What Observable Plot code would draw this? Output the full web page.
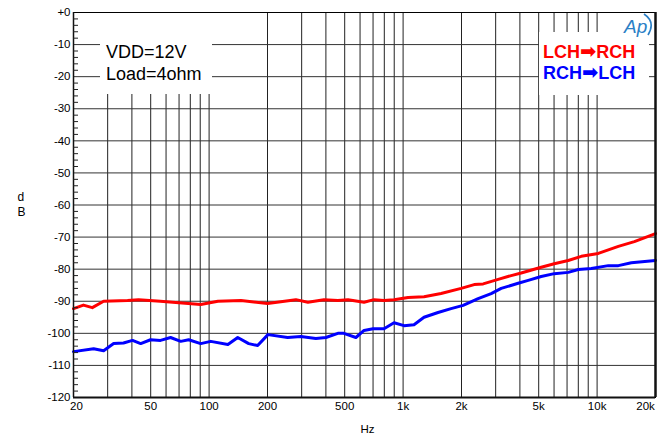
<!DOCTYPE html>
<html>
<head>
<meta charset="utf-8">
<script src="https://cdn.jsdelivr.net/npm/d3@7"></script>
<script src="https://cdn.jsdelivr.net/npm/@observablehq/plot@0.6"></script>
<style>
  html, body { margin: 0; padding: 0; background: #fff; }
  #wrap { position: relative; width: 665px; height: 442px; overflow: hidden; font-family: "Liberation Sans", Arial, "DejaVu Sans", sans-serif; }
  #wrap svg.plot { position: absolute; left: 0; top: 0; }
  .border { position: absolute; left: 5px; top: 0; width: 2px; height: 442px; background: #c4c4c4; }
  .box1 { position: absolute; left: 100px; top: 13px; width: 112px; height: 81px; background: #fff; box-sizing: border-box; padding-top: 27.8px; padding-left: 6px; font-size: 18px; line-height: 22px; color: #000; white-space: nowrap; }
  .box2 { position: absolute; left: 539px; top: 32px; width: 110px; height: 63px; background: #fff; box-sizing: border-box; padding-top: 9.8px; padding-left: 4px; font-size: 18px; line-height: 21px; font-weight: bold; white-space: nowrap; }
  .arrow { font-family: "DejaVu Sans", sans-serif; font-weight: bold; font-size: 19.5px; line-height: 0; vertical-align: 0px; }
  .logo { position: absolute; left: 618px; top: 11px; }
</style>
</head>
<body>
<div id="wrap">
  <div class="border"></div>
</div>
<script>
// ---- data ----
const redFreq = [20, 22.5, 25, 28.6, 38, 43.3, 56, 90.5, 111, 146, 200, 280, 323, 391, 461, 520, 629, 708, 797, 898, 1060, 1282, 1569, 1991, 2324, 2586, 3091, 3607, 4062, 5152, 6013, 7100, 8290, 10145, 12870, 15563, 20000];
const redDb   = [-92.3, -91.2, -92, -90, -89.8, -89.5, -90, -91, -90, -89.8, -90.7, -89.5, -90.3, -89.5, -89.8, -89.5, -90.3, -89.5, -89.8, -89.5, -88.8, -88.6, -87.6, -86, -84.8, -84.6, -83.2, -82, -81.2, -79.4, -78.3, -77.3, -76, -75.1, -72.9, -71.4, -68.9];

const blueFreq = [20, 25.4, 28.6, 32.2, 36.2, 40.3, 44.4, 49.9, 56.2, 63.3, 71.4, 78.5, 90.5, 102, 125, 140.5, 160, 178, 201, 254, 297, 355, 400, 461, 495, 571, 629, 700, 797, 898, 1011, 1138, 1282, 1514, 1767, 2039, 2436, 2844, 3203, 3920, 4415, 5152, 6013, 7100, 7998, 9335, 11423, 12870, 15017, 20000];
const blueDb   = [-105.7, -104.8, -105.4, -103.2, -103, -102.2, -103.2, -102, -102.2, -101.3, -102.5, -102, -103.2, -102.5, -103.5, -101.3, -103.2, -103.8, -100.4, -101.3, -101, -101.6, -101.3, -100, -100, -101.3, -99.1, -98.6, -98.6, -96.7, -97.6, -97.3, -95, -93.5, -92.3, -91.3, -89.2, -87.6, -86, -84.4, -83.5, -82.3, -81.4, -81, -80.1, -79.8, -78.9, -78.9, -78, -77.3];

const xGridVals = [20, 30, 40, 50, 60, 70, 80, 90, 100, 200, 300, 400, 500, 600, 700, 800, 900, 1000, 2000, 3000, 4000, 5000, 6000, 7000, 8000, 9000, 10000, 20000];
const xTickVals = [20, 50, 100, 200, 500, 1000, 2000, 5000, 10000, 20000];
const xTickLabels = ["20", "50", "100", "200", "500", "1k", "2k", "5k", "10k", "20k"];
const yMajor = [0, -10, -20, -30, -40, -50, -60, -70, -80, -90, -100, -110, -120];
const yMinor = d3.range(-118, 0, 2).filter(v => v % 10 !== 0);

const red = redFreq.map((f, i) => ({f, db: redDb[i]}));
const blue = blueFreq.map((f, i) => ({f, db: blueDb[i]}));
const xTicks = xTickVals.map((v, i) => ({v, label: xTickLabels[i]}));

const chart = Plot.plot({
  width: 665,
  height: 442,
  marginLeft: 73,
  marginRight: 10,
  marginTop: 12,
  marginBottom: 45,
  x: {type: "log", domain: [20, 20000], axis: null},
  y: {domain: [-120, 0], axis: null},
  style: {fontFamily: "'Liberation Sans', Arial, sans-serif", fontSize: "11.5px", color: "#000", background: "#fff", overflow: "visible"},
  marks: [
    Plot.gridX(xGridVals, {stroke: "#222", strokeOpacity: 1, strokeWidth: 1}),
    Plot.gridY(yMajor, {stroke: "#333", strokeOpacity: 1, strokeWidth: 1}),
    Plot.line(red, {x: "f", y: "db", stroke: "#ff0000", strokeWidth: 3}),
    Plot.line(blue, {x: "f", y: "db", stroke: "#0000ff", strokeWidth: 3}),
    Plot.frame({stroke: "#000", strokeWidth: 1}),
    Plot.ruleX([20000], {stroke: "#111", strokeWidth: 2.5}),
    Plot.ruleY([-120], {stroke: "#111", strokeWidth: 2}),
    Plot.ruleX([20], {stroke: "#111", strokeWidth: 1.5}),
    Plot.axisY(yMajor, {anchor: "left", tickSize: 0, tickPadding: 3, tickFormat: d => d === 0 ? "+0" : String(d), label: null}),
    Plot.axisY(yMinor, {anchor: "left", tickSize: -5, tickFormat: () => "", label: null, stroke: "#222"}),
    Plot.text(xTicks.slice(0, 1), {x: "v", text: "label", frameAnchor: "bottom", dy: 12, dx: 3}),
    Plot.text(xTicks.slice(1, -1), {x: "v", text: "label", frameAnchor: "bottom", dy: 12}),
    Plot.text(xTicks.slice(-1), {x: "v", text: "label", frameAnchor: "bottom", dy: 12, dx: -10}),
    Plot.text(["Hz"], {frameAnchor: "bottom", dy: 35, dx: 3, fontSize: 11.5}),
    Plot.text(["d"], {frameAnchor: "left", dx: -56, dy: -7.5, fontSize: 12}),
    Plot.text(["B"], {frameAnchor: "left", dx: -56, dy: 7.5, fontSize: 12})
  ]
});
chart.classList.add("plot");
const wrap = document.getElementById("wrap");
wrap.appendChild(chart);

const box1 = document.createElement("div");
box1.className = "box1";
box1.innerHTML = "VDD=12V<br>Load=4ohm";
wrap.appendChild(box1);

const box2 = document.createElement("div");
box2.className = "box2";
box2.innerHTML = '<span style="color:#ff0000">LCH<span class="arrow">➡&#xFE0E;</span>RCH</span><br><span style="color:#0000ff">RCH<span class="arrow">➡&#xFE0E;</span>LCH</span>';
wrap.appendChild(box2);

const logo = document.createElement("div");
logo.className = "logo";
logo.innerHTML = '<svg width="38" height="28" xmlns="http://www.w3.org/2000/svg"><text x="6" y="22" font-family="Liberation Sans, Arial, sans-serif" font-style="italic" font-size="19" fill="#2a7fc6">Ap</text><path d="M26,3 Q38,11 30,24" fill="none" stroke="#2a7fc6" stroke-width="1.6"/></svg>';
wrap.appendChild(logo);
</script>
</body>
</html>
